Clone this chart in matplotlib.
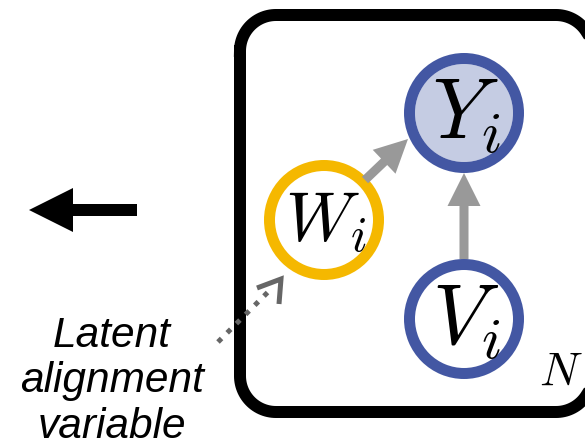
import matplotlib
matplotlib.use("Agg")
import numpy as np
import matplotlib.pyplot as plt
from matplotlib.patches import Circle, Annulus, FancyArrow

plt.rcParams['mathtext.fontset'] = 'cm'

# node data (pixel units of the 585x445 canvas)
node_names = ["W", "Y", "V"]
node_labels = [r"$W_i$", r"$Y_i$", r"$V_i$"]
node_x = [324, 464, 464]
node_y = [220, 113, 319]
node_ring = ["#F5B800", "#4357A3", "#4357A3"]
node_fill = ["white", "#C5CCE3", "white"]
node_fontsize = [50, 61, 61]
node_r = 60
ring_w = 11

# edges: (start, end)
edges = [((365, 180), (408, 139)), ((464, 259), (464, 173))]
plate = (240, 15, 592, 412)   # left, top, right, bottom (line centre)
plate_rad = 36
caption = "Latent\nalignment\nvariable"


def rounded_rect(l, t, r, b, R, n=30):
    # corner centres and angle ranges (y axis points down)
    corners = [((l + R, t + R), np.pi, 1.5 * np.pi),
               ((r - R, t + R), 1.5 * np.pi, 2 * np.pi),
               ((r - R, b - R), 0, 0.5 * np.pi),
               ((l + R, b - R), 0.5 * np.pi, np.pi)]
    xs, ys = [], []
    for (cx, cy), a0, a1 in corners:
        a = np.linspace(a0, a1, n)
        xs += list(cx + R * np.cos(a))
        ys += list(cy + R * np.sin(a))
    xs.append(xs[0])
    ys.append(ys[0])
    return xs, ys


fig = plt.figure(figsize=(5.85, 4.45), dpi=100)
ax = fig.add_axes([0, 0, 1, 1])
ax.set_xlim(0, 585)
ax.set_ylim(445, 0)
ax.axis('off')

# plate (drawn as a line so clipping at the canvas edge adds no border)
px, py = rounded_rect(*plate, plate_rad)
ax.plot(px, py, color="black", lw=12 * 0.72, solid_joinstyle='round')
ax.text(561, 372, r"$N$", fontsize=34, ha='center', va='center')

# nodes
for i in range(len(node_names)):
    ax.add_patch(Circle((node_x[i], node_y[i]), node_r - ring_w, fc=node_fill[i], ec="none"))
    ax.add_patch(Annulus((node_x[i], node_y[i]), node_r, ring_w, fc=node_ring[i], ec="none"))
    ax.text(node_x[i] + 2, node_y[i] + 2, node_labels[i], fontsize=node_fontsize[i],
            ha='center', va='center')

# grey arrows
for (x0, y0), (x1, y1) in edges:
    ax.add_patch(FancyArrow(x0, y0, x1 - x0, y1 - y0, width=9, head_width=33,
                            head_length=33, length_includes_head=True,
                            fc="#999999", ec="none"))

# big left arrow
ax.add_patch(FancyArrow(137, 210, -108, 0, width=12, head_width=44, head_length=44,
                        length_includes_head=True, fc="black", ec="none"))

# dotted arrow for latent variable
ax.plot([218, 272], [342, 288], color="#666666", lw=5 * 0.72, ls=(0, (1, 1.6)),
        solid_capstyle='butt', dash_capstyle='butt')
ax.plot([257, 281, 279], [288, 279, 304], color="#666666", lw=5 * 0.72,
        solid_joinstyle='miter', solid_capstyle='butt')

ax.text(112, 438, caption, fontsize=30.5, family=['Liberation Sans', 'DejaVu Sans'],
        style='italic', ha='center', va='baseline', linespacing=1.18)

fig.savefig("out.png", dpi=100)
